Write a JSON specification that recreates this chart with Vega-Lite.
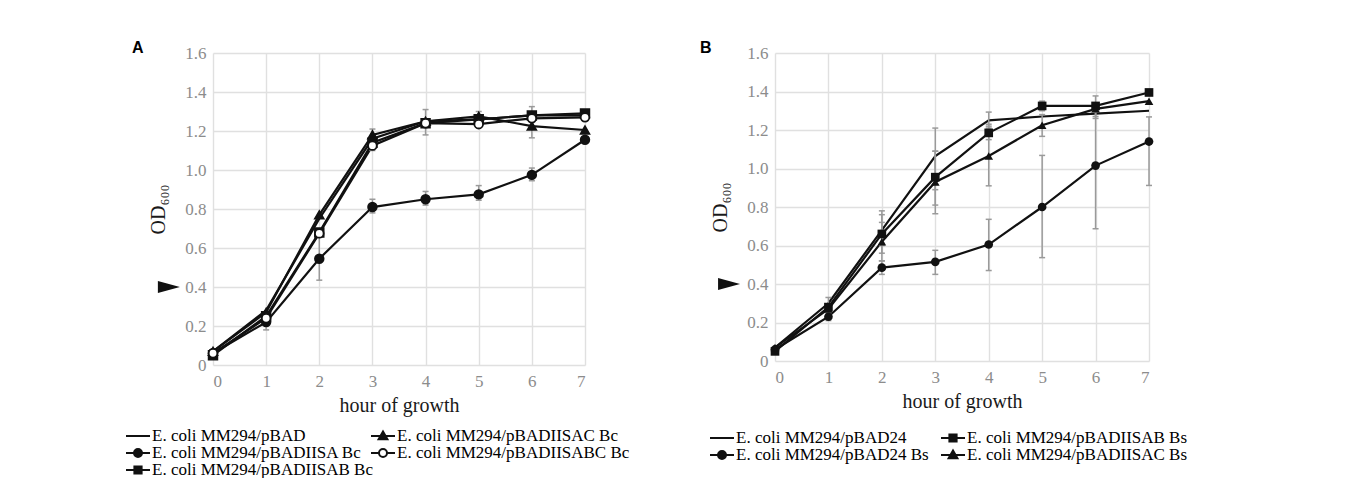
{
  "$schema": "https://vega.github.io/schema/vega-lite/v6.json",
  "background": "white",
  "padding": {"left": 129, "top": 40, "right": 0, "bottom": 0},
  "spacing": 70,
  "resolve": {"scale": {"shape": "independent", "color": "independent"}, "legend": {"shape": "independent", "color": "independent"}},
  "datasets": {
    "a": [
      {"series": "E. coli MM294/pBAD", "hour": 0, "od": 0.07},
      {"series": "E. coli MM294/pBAD", "hour": 1, "od": 0.28},
      {"series": "E. coli MM294/pBAD", "hour": 2, "od": 0.75},
      {"series": "E. coli MM294/pBAD", "hour": 3, "od": 1.16},
      {"series": "E. coli MM294/pBAD", "hour": 4, "od": 1.25},
      {"series": "E. coli MM294/pBAD", "hour": 5, "od": 1.26},
      {"series": "E. coli MM294/pBAD", "hour": 6, "od": 1.28},
      {"series": "E. coli MM294/pBAD", "hour": 7, "od": 1.28},
      {"series": "E. coli MM294/pBADIISA Bc", "hour": 0, "od": 0.06},
      {"series": "E. coli MM294/pBADIISA Bc", "hour": 1, "od": 0.22},
      {"series": "E. coli MM294/pBADIISA Bc", "hour": 2, "od": 0.545},
      {"series": "E. coli MM294/pBADIISA Bc", "hour": 3, "od": 0.81},
      {"series": "E. coli MM294/pBADIISA Bc", "hour": 4, "od": 0.85},
      {"series": "E. coli MM294/pBADIISA Bc", "hour": 5, "od": 0.875},
      {"series": "E. coli MM294/pBADIISA Bc", "hour": 6, "od": 0.975},
      {"series": "E. coli MM294/pBADIISA Bc", "hour": 7, "od": 1.155},
      {"series": "E. coli MM294/pBADIISAB Bc", "hour": 0, "od": 0.05},
      {"series": "E. coli MM294/pBADIISAB Bc", "hour": 1, "od": 0.25},
      {"series": "E. coli MM294/pBADIISAB Bc", "hour": 2, "od": 0.68},
      {"series": "E. coli MM294/pBADIISAB Bc", "hour": 3, "od": 1.14},
      {"series": "E. coli MM294/pBADIISAB Bc", "hour": 4, "od": 1.24},
      {"series": "E. coli MM294/pBADIISAB Bc", "hour": 5, "od": 1.26},
      {"series": "E. coli MM294/pBADIISAB Bc", "hour": 6, "od": 1.28},
      {"series": "E. coli MM294/pBADIISAB Bc", "hour": 7, "od": 1.29},
      {"series": "E. coli MM294/pBADIISAC Bc", "hour": 0, "od": 0.07},
      {"series": "E. coli MM294/pBADIISAC Bc", "hour": 1, "od": 0.27},
      {"series": "E. coli MM294/pBADIISAC Bc", "hour": 2, "od": 0.77},
      {"series": "E. coli MM294/pBADIISAC Bc", "hour": 3, "od": 1.18},
      {"series": "E. coli MM294/pBADIISAC Bc", "hour": 4, "od": 1.25},
      {"series": "E. coli MM294/pBADIISAC Bc", "hour": 5, "od": 1.275},
      {"series": "E. coli MM294/pBADIISAC Bc", "hour": 6, "od": 1.225},
      {"series": "E. coli MM294/pBADIISAC Bc", "hour": 7, "od": 1.205},
      {"series": "E. coli MM294/pBADIISABC Bc", "hour": 0, "od": 0.06},
      {"series": "E. coli MM294/pBADIISABC Bc", "hour": 1, "od": 0.24},
      {"series": "E. coli MM294/pBADIISABC Bc", "hour": 2, "od": 0.675},
      {"series": "E. coli MM294/pBADIISABC Bc", "hour": 3, "od": 1.125},
      {"series": "E. coli MM294/pBADIISABC Bc", "hour": 4, "od": 1.24},
      {"series": "E. coli MM294/pBADIISABC Bc", "hour": 5, "od": 1.235},
      {"series": "E. coli MM294/pBADIISABC Bc", "hour": 6, "od": 1.265},
      {"series": "E. coli MM294/pBADIISABC Bc", "hour": 7, "od": 1.27}
    ],
    "ea": [
      {"series": "E. coli MM294/pBADIISA Bc", "hour": 1, "lo": 0.18, "hi": 0.26},
      {"series": "E. coli MM294/pBADIISA Bc", "hour": 2, "lo": 0.435, "hi": 0.66},
      {"series": "E. coli MM294/pBADIISA Bc", "hour": 3, "lo": 0.78, "hi": 0.85},
      {"series": "E. coli MM294/pBADIISAC Bc", "hour": 3, "lo": 1.15, "hi": 1.21},
      {"series": "E. coli MM294/pBADIISABC Bc", "hour": 3, "lo": 1.1, "hi": 1.15},
      {"series": "E. coli MM294/pBADIISAB Bc", "hour": 4, "lo": 1.18, "hi": 1.31},
      {"series": "E. coli MM294/pBADIISA Bc", "hour": 4, "lo": 0.82, "hi": 0.89},
      {"series": "E. coli MM294/pBADIISA Bc", "hour": 5, "lo": 0.845, "hi": 0.92},
      {"series": "E. coli MM294/pBADIISAC Bc", "hour": 5, "lo": 1.26, "hi": 1.3},
      {"series": "E. coli MM294/pBADIISAB Bc", "hour": 6, "lo": 1.165, "hi": 1.325},
      {"series": "E. coli MM294/pBADIISA Bc", "hour": 6, "lo": 0.945, "hi": 1.01},
      {"series": "E. coli MM294/pBADIISA Bc", "hour": 7, "lo": 1.14, "hi": 1.17},
      {"series": "E. coli MM294/pBADIISAB Bc", "hour": 7, "lo": 1.27, "hi": 1.3}
    ],
    "b": [
      {"series": "E. coli MM294/pBAD24", "hour": 0, "od": 0.07},
      {"series": "E. coli MM294/pBAD24", "hour": 1, "od": 0.3},
      {"series": "E. coli MM294/pBAD24", "hour": 2, "od": 0.68},
      {"series": "E. coli MM294/pBAD24", "hour": 3, "od": 1.065},
      {"series": "E. coli MM294/pBAD24", "hour": 4, "od": 1.25},
      {"series": "E. coli MM294/pBAD24", "hour": 5, "od": 1.27},
      {"series": "E. coli MM294/pBAD24", "hour": 6, "od": 1.285},
      {"series": "E. coli MM294/pBAD24", "hour": 7, "od": 1.3},
      {"series": "E. coli MM294/pBAD24 Bs", "hour": 0, "od": 0.06},
      {"series": "E. coli MM294/pBAD24 Bs", "hour": 1, "od": 0.23},
      {"series": "E. coli MM294/pBAD24 Bs", "hour": 2, "od": 0.485},
      {"series": "E. coli MM294/pBAD24 Bs", "hour": 3, "od": 0.515},
      {"series": "E. coli MM294/pBAD24 Bs", "hour": 4, "od": 0.605},
      {"series": "E. coli MM294/pBAD24 Bs", "hour": 5, "od": 0.8},
      {"series": "E. coli MM294/pBAD24 Bs", "hour": 6, "od": 1.015},
      {"series": "E. coli MM294/pBAD24 Bs", "hour": 7, "od": 1.14},
      {"series": "E. coli MM294/pBADIISAB Bs", "hour": 0, "od": 0.05},
      {"series": "E. coli MM294/pBADIISAB Bs", "hour": 1, "od": 0.28},
      {"series": "E. coli MM294/pBADIISAB Bs", "hour": 2, "od": 0.66},
      {"series": "E. coli MM294/pBADIISAB Bs", "hour": 3, "od": 0.955},
      {"series": "E. coli MM294/pBADIISAB Bs", "hour": 4, "od": 1.185},
      {"series": "E. coli MM294/pBADIISAB Bs", "hour": 5, "od": 1.325},
      {"series": "E. coli MM294/pBADIISAB Bs", "hour": 6, "od": 1.325},
      {"series": "E. coli MM294/pBADIISAB Bs", "hour": 7, "od": 1.395},
      {"series": "E. coli MM294/pBADIISAC Bs", "hour": 0, "od": 0.07},
      {"series": "E. coli MM294/pBADIISAC Bs", "hour": 1, "od": 0.27},
      {"series": "E. coli MM294/pBADIISAC Bs", "hour": 2, "od": 0.62},
      {"series": "E. coli MM294/pBADIISAC Bs", "hour": 3, "od": 0.93},
      {"series": "E. coli MM294/pBADIISAC Bs", "hour": 4, "od": 1.065},
      {"series": "E. coli MM294/pBADIISAC Bs", "hour": 5, "od": 1.225},
      {"series": "E. coli MM294/pBADIISAC Bs", "hour": 6, "od": 1.31},
      {"series": "E. coli MM294/pBADIISAC Bs", "hour": 7, "od": 1.35}
    ],
    "eb": [
      {"series": "E. coli MM294/pBAD24", "hour": 1, "lo": 0.27, "hi": 0.33},
      {"series": "E. coli MM294/pBAD24 Bs", "hour": 1, "lo": 0.21, "hi": 0.25},
      {"series": "E. coli MM294/pBAD24", "hour": 2, "lo": 0.6, "hi": 0.78},
      {"series": "E. coli MM294/pBADIISAB Bs", "hour": 2, "lo": 0.56, "hi": 0.76},
      {"series": "E. coli MM294/pBAD24 Bs", "hour": 2, "lo": 0.45, "hi": 0.52},
      {"series": "E. coli MM294/pBADIISAC Bs", "hour": 2, "lo": 0.52, "hi": 0.72},
      {"series": "E. coli MM294/pBAD24", "hour": 3, "lo": 0.89, "hi": 1.21},
      {"series": "E. coli MM294/pBADIISAB Bs", "hour": 3, "lo": 0.81, "hi": 1.09},
      {"series": "E. coli MM294/pBADIISAC Bs", "hour": 3, "lo": 0.765, "hi": 1.09},
      {"series": "E. coli MM294/pBAD24 Bs", "hour": 3, "lo": 0.45, "hi": 0.575},
      {"series": "E. coli MM294/pBAD24", "hour": 4, "lo": 1.21, "hi": 1.293},
      {"series": "E. coli MM294/pBADIISAB Bs", "hour": 4, "lo": 1.15, "hi": 1.23},
      {"series": "E. coli MM294/pBADIISAC Bs", "hour": 4, "lo": 0.91, "hi": 1.22},
      {"series": "E. coli MM294/pBAD24 Bs", "hour": 4, "lo": 0.47, "hi": 0.736},
      {"series": "E. coli MM294/pBADIISAB Bs", "hour": 5, "lo": 1.3, "hi": 1.35},
      {"series": "E. coli MM294/pBADIISAC Bs", "hour": 5, "lo": 1.167, "hi": 1.28},
      {"series": "E. coli MM294/pBAD24 Bs", "hour": 5, "lo": 0.537, "hi": 1.068},
      {"series": "E. coli MM294/pBADIISAB Bs", "hour": 6, "lo": 1.27, "hi": 1.377},
      {"series": "E. coli MM294/pBADIISAC Bs", "hour": 6, "lo": 1.26, "hi": 1.34},
      {"series": "E. coli MM294/pBAD24 Bs", "hour": 6, "lo": 0.687, "hi": 1.3},
      {"series": "E. coli MM294/pBAD24 Bs", "hour": 7, "lo": 0.912, "hi": 1.268},
      {"series": "E. coli MM294/pBADIISAB Bs", "hour": 7, "lo": 1.38, "hi": 1.41}
    ]
  },
  "config": {
    "view": {"stroke": null},
    "font": "Liberation Serif",
    "legend": {
      "labelFont": "Liberation Serif", "labelFontSize": 17, "labelColor": "black", "labelLimit": 400,
      "symbolSize": 256, "labelOffset": 5, "rowPadding": -5, "columnPadding": 0
    },
    "title": {"font": "Liberation Sans", "fontSize": 16, "fontWeight": "bold", "anchor": "start", "frame": "group", "color": "black"}
  },
  "hconcat": [
    {
      "width": 372, "height": 312,
      "title": {"text": "A", "dx": -81, "dy": 16},
      "layer": [
        {
          "data": {"name": "a"},
          "mark": {"type": "line", "strokeWidth": 2.2},
          "encoding": {
            "x": {"field": "hour", "type": "quantitative", "scale": {"domain": [0, 7], "nice": false},
                  "axis": {"values": [0, 1, 2, 3, 4, 5, 6, 7], "tickCount": 8, "format": "d", "title": "hour of growth", "labelPadding": 8, "titlePadding": 6,
                           "labelFont": "Liberation Serif", "labelFontSize": 17, "labelColor": "#8c8c8c",
                           "titleFont": "Liberation Serif", "titleFontSize": 20, "titleFontWeight": "normal", "titleColor": "#1a1a1a",
                           "gridColor": "#e0e0e0", "gridWidth": 1.4, "domain": false, "ticks": false}},
            "y": {"field": "od", "type": "quantitative", "title": "OD₆₀₀", "scale": {"domain": [0, 1.6], "nice": false},
                  "axis": {"values": [0, 0.2, 0.4, 0.6, 0.8, 1.0, 1.2, 1.4, 1.6], "tickCount": 9, "labelExpr": "datum.value === 0 ? '0' : format(datum.value, '.1f')", "labelPadding": 7, "titlePadding": 16,
                           "labelFont": "Liberation Serif", "labelFontSize": 17, "labelColor": "#8c8c8c", "labelOverlap": false,
                           "titleFont": "Liberation Serif", "titleFontSize": 20, "titleFontWeight": "normal", "titleColor": "#1a1a1a",
                           "gridColor": "#e0e0e0", "gridWidth": 1.4, "domain": false, "ticks": false}},
            "color": {
              "field": "series", "type": "nominal",
              "scale": {
                "domain": ["E. coli MM294/pBAD", "E. coli MM294/pBADIISAC Bc", "E. coli MM294/pBADIISA Bc", "E. coli MM294/pBADIISABC Bc", "E. coli MM294/pBADIISAB Bc"],
                "range": ["#111", "#111", "#111", "#111", "#111"]
              },
              "legend": {
                "title": null, "orient": "none", "legendX": -84, "legendY": 374, "columns": 2, "direction": "horizontal", "columnPadding": -6,
                "encode": {"symbols": {"update": {
                  "shape": {"signal": "datum.value === 'E. coli MM294/pBAD' ? 'M-1.5,0H1.5' : datum.value === 'E. coli MM294/pBADIISAC Bc' ? 'M-1.5,0H1.5M0,-0.55L0.55,0.4H-0.55Z' : datum.value === 'E. coli MM294/pBADIISAB Bc' ? 'M-1.5,0H1.5M-0.45,-0.45H0.45V0.45H-0.45Z' : datum.value === 'E. coli MM294/pBADIISABC Bc' ? 'M-1.5,0H-0.5M0.5,0H1.5M0.5,0A0.5,0.5 0 1,1 -0.5,0A0.5,0.5 0 1,1 0.5,0Z' : 'M-1.5,0H1.5M0.5,0A0.5,0.5 0 1,1 -0.5,0A0.5,0.5 0 1,1 0.5,0Z'"},
                  "fill": {"signal": "datum.value === 'E. coli MM294/pBADIISABC Bc' ? 'white' : '#111'"},
                  "strokeWidth": {"value": 2},
                  "opacity": {"value": 1}
                }}}
              }
            }
          }
        },
        {
          "data": {"name": "ea"},
          "mark": {"type": "rule", "color": "#9a9a9a", "strokeWidth": 1.5},
          "encoding": {
            "x": {"field": "hour", "type": "quantitative"},
            "y": {"field": "lo", "type": "quantitative", "title": "OD₆₀₀"},
            "y2": {"field": "hi"}
          }
        },
        {
          "data": {"name": "ea"},
          "mark": {"type": "tick", "orient": "horizontal", "color": "#9a9a9a", "size": 6, "thickness": 1.5, "opacity": 1},
          "encoding": {
            "x": {"field": "hour", "type": "quantitative"},
            "y": {"field": "lo", "type": "quantitative", "title": "OD₆₀₀"}
          }
        },
        {
          "data": {"name": "ea"},
          "mark": {"type": "tick", "orient": "horizontal", "color": "#9a9a9a", "size": 6, "thickness": 1.5, "opacity": 1},
          "encoding": {
            "x": {"field": "hour", "type": "quantitative"},
            "y": {"field": "hi", "type": "quantitative", "title": "OD₆₀₀"}
          }
        },
        {
          "data": {"name": "a"},
          "transform": [{"filter": "datum.series !== 'E. coli MM294/pBAD'"}],
          "mark": {"type": "point", "stroke": "#111", "strokeWidth": 1.8, "opacity": 1, "size": 75},
          "encoding": {
            "x": {"field": "hour", "type": "quantitative"},
            "y": {"field": "od", "type": "quantitative", "title": "OD₆₀₀"},
            "fill": {"condition": {"test": "datum.series === 'E. coli MM294/pBADIISABC Bc'", "value": "white"}, "value": "#111"},
            "shape": {
              "field": "series", "type": "nominal",
              "scale": {
                "domain": ["E. coli MM294/pBADIISAC Bc", "E. coli MM294/pBADIISA Bc", "E. coli MM294/pBADIISABC Bc", "E. coli MM294/pBADIISAB Bc"],
                "range": ["triangle-up", "circle", "circle", "square"]
              },
              "legend": null
            }
          }
        },
        {
          "data": {"values": [{"mark": "OD 0.4"}]},
          "mark": {"type": "point", "filled": true, "color": "#111", "opacity": 1, "size": 484, "shape": "M-1,-0.55L1,0L-1,0.55Z"},
          "encoding": {"x": {"datum": -0.83, "type": "quantitative"}, "y": {"datum": 0.4, "type": "quantitative"}}
        }
      ]
    },
    {
      "width": 374, "height": 308,
      "title": {"text": "B", "dx": -75, "dy": 16},
      "layer": [
        {
          "data": {"name": "b"},
          "mark": {"type": "line", "strokeWidth": 2.2},
          "encoding": {
            "x": {"field": "hour", "type": "quantitative", "scale": {"domain": [0, 7], "nice": false},
                  "axis": {"values": [0, 1, 2, 3, 4, 5, 6, 7], "tickCount": 8, "format": "d", "title": "hour of growth", "labelPadding": 8, "titlePadding": 6,
                           "labelFont": "Liberation Serif", "labelFontSize": 17, "labelColor": "#8c8c8c",
                           "titleFont": "Liberation Serif", "titleFontSize": 20, "titleFontWeight": "normal", "titleColor": "#1a1a1a",
                           "gridColor": "#e0e0e0", "gridWidth": 1.4, "domain": false, "ticks": false}},
            "y": {"field": "od", "type": "quantitative", "title": "OD₆₀₀", "scale": {"domain": [0, 1.6], "nice": false},
                  "axis": {"values": [0, 0.2, 0.4, 0.6, 0.8, 1.0, 1.2, 1.4, 1.6], "tickCount": 9, "labelExpr": "datum.value === 0 ? '0' : format(datum.value, '.1f')", "labelPadding": 7, "titlePadding": 16,
                           "labelFont": "Liberation Serif", "labelFontSize": 17, "labelColor": "#8c8c8c", "labelOverlap": false,
                           "titleFont": "Liberation Serif", "titleFontSize": 20, "titleFontWeight": "normal", "titleColor": "#1a1a1a",
                           "gridColor": "#e0e0e0", "gridWidth": 1.4, "domain": false, "ticks": false}},
            "color": {
              "field": "series", "type": "nominal",
              "scale": {
                "domain": ["E. coli MM294/pBAD24", "E. coli MM294/pBADIISAB Bs", "E. coli MM294/pBAD24 Bs", "E. coli MM294/pBADIISAC Bs"],
                "range": ["#111", "#111", "#111", "#111"]
              },
              "legend": {
                "title": null, "orient": "none", "legendX": -62, "legendY": 376, "columns": 2, "direction": "horizontal", "columnPadding": 8,
                "encode": {"symbols": {"update": {
                  "shape": {"signal": "datum.value === 'E. coli MM294/pBAD24' ? 'M-1.5,0H1.5' : datum.value === 'E. coli MM294/pBADIISAC Bs' ? 'M-1.5,0H1.5M0,-0.55L0.55,0.4H-0.55Z' : datum.value === 'E. coli MM294/pBADIISAB Bs' ? 'M-1.5,0H1.5M-0.45,-0.45H0.45V0.45H-0.45Z' : 'M-1.5,0H1.5M0.5,0A0.5,0.5 0 1,1 -0.5,0A0.5,0.5 0 1,1 0.5,0Z'"},
                  "fill": {"value": "#111"},
                  "strokeWidth": {"value": 2},
                  "opacity": {"value": 1}
                }}}
              }
            }
          }
        },
        {
          "data": {"name": "eb"},
          "mark": {"type": "rule", "color": "#9a9a9a", "strokeWidth": 1.5},
          "encoding": {
            "x": {"field": "hour", "type": "quantitative"},
            "y": {"field": "lo", "type": "quantitative", "title": "OD₆₀₀"},
            "y2": {"field": "hi"}
          }
        },
        {
          "data": {"name": "eb"},
          "mark": {"type": "tick", "orient": "horizontal", "color": "#9a9a9a", "size": 6, "thickness": 1.5, "opacity": 1},
          "encoding": {
            "x": {"field": "hour", "type": "quantitative"},
            "y": {"field": "lo", "type": "quantitative", "title": "OD₆₀₀"}
          }
        },
        {
          "data": {"name": "eb"},
          "mark": {"type": "tick", "orient": "horizontal", "color": "#9a9a9a", "size": 6, "thickness": 1.5, "opacity": 1},
          "encoding": {
            "x": {"field": "hour", "type": "quantitative"},
            "y": {"field": "hi", "type": "quantitative", "title": "OD₆₀₀"}
          }
        },
        {
          "data": {"name": "b"},
          "transform": [{"filter": "datum.series !== 'E. coli MM294/pBAD24'"}],
          "mark": {"type": "point", "filled": true, "color": "#111", "strokeWidth": 1.8, "opacity": 1, "size": 75},
          "encoding": {
            "x": {"field": "hour", "type": "quantitative"},
            "y": {"field": "od", "type": "quantitative", "title": "OD₆₀₀"},
            "shape": {
              "field": "series", "type": "nominal",
              "scale": {
                "domain": ["E. coli MM294/pBADIISAB Bs", "E. coli MM294/pBAD24 Bs", "E. coli MM294/pBADIISAC Bs"],
                "range": ["square", "circle", "triangle-up"]
              },
              "legend": null
            }
          }
        },
        {
          "data": {"values": [{"mark": "OD 0.4"}]},
          "mark": {"type": "point", "filled": true, "color": "#111", "opacity": 1, "size": 484, "shape": "M-1,-0.55L1,0L-1,0.55Z"},
          "encoding": {"x": {"datum": -0.86, "type": "quantitative"}, "y": {"datum": 0.4, "type": "quantitative"}}
        }
      ]
    }
  ]
}
